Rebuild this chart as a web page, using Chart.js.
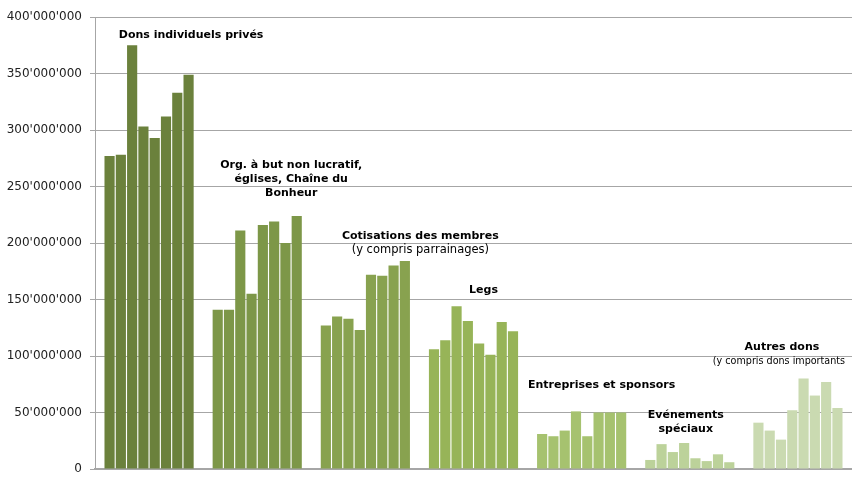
<!DOCTYPE html>
<html lang="fr">
<head>
  <meta charset="UTF-8">
  <title>Dons par source</title>
  <script src="https://cdn.jsdelivr.net/npm/chart.js"></script>
  <style>
    html, body {
      margin: 0;
      padding: 0;
      background: #ffffff;
    }
    #wrap {
      width: 852px;
      height: 479px;
    }
  </style>
</head>
<body>
  <div id="wrap"><canvas id="donChart"></canvas></div>

  <script>
    // categories (source of revenue)
    const categories = [
      'Dons individuels privés',
      'Org. à but non lucratif, églises, Chaîne du Bonheur',
      'Cotisations des membres',
      'Legs',
      'Entreprises et sponsors',
      'Evénements spéciaux',
      'Autres dons'
    ];

    // 8 series per category (CHF)
    const serie1 = [277e6, 141e6, 127e6, 106e6, 31e6, 8e6, 41e6];
    const serie2 = [278e6, 141e6, 135e6, 114e6, 29e6, 22e6, 34e6];
    const serie3 = [375e6, 211e6, 133e6, 144e6, 34e6, 15e6, 26e6];
    const serie4 = [303e6, 155e6, 123e6, 131e6, 51e6, 23e6, 52e6];
    const serie5 = [293e6, 216e6, 172e6, 111e6, 29e6, 9.5e6, 80e6];
    const serie6 = [312e6, 219e6, 171e6, 101e6, 50e6, 7e6, 65e6];
    const serie7 = [333e6, 200e6, 180e6, 130e6, 50e6, 13e6, 77e6];
    const serie8 = [349e6, 224e6, 184e6, 122e6, 50e6, 6e6, 54e6];

    const seriesNames = ['Série 1', 'Série 2', 'Série 3', 'Série 4', 'Série 5', 'Série 6', 'Série 7', 'Série 8'];
    const seriesValues = [serie1, serie2, serie3, serie4, serie5, serie6, serie7, serie8];

    // y axis ticks
    const yMin = 0;
    const yMax = 400e6;
    const yStep = 50e6;

    // annotation text per category: bold lines, then normal lines
    const boldLabels = [
      ['Dons individuels privés'],
      ['Org. à but non lucratif,', 'églises, Chaîne du', 'Bonheur'],
      ['Cotisations des membres'],
      ['Legs'],
      ['Entreprises et sponsors'],
      ['Evénements', 'spéciaux'],
      ['Autres dons']
    ];
    const subLabels = [
      [],
      [],
      ['(y compris parrainages)'],
      [],
      [],
      [],
      ['(y compris dons importants']
    ];

    const groupColors = ['#6b813c', '#7d9748', '#88a24f', '#97b458', '#a6c26f', '#bcd29a', '#cadab1'];

    function fmt(v) {
      return String(v).replace(/\B(?=(\d{3})+(?!\d))/g, "'");
    }

    // draws the category titles above each group of bars
    const groupTitles = {
      id: 'groupTitles',
      afterDatasetsDraw(chart) {
        const ctx = chart.ctx;
        const xs = chart.scales.x;
        const ys = chart.scales.y;
        // shift from group center, distance of last line above tallest bar
        const dx = [42, 34, 55, 10, 20, -4, -16];
        const subDx = [0, 0, 55, 0, 0, 0, -19];
        const subSize = [11.5, 11.5, 11.5, 11.5, 11.5, 11.5, 9.6];
        const dy = [10, 23, 11, 16, 26, 14, 17];
        const lineH = 14;
        ctx.save();
        ctx.fillStyle = '#000000';
        ctx.textBaseline = 'middle';
        ctx.textAlign = 'center';
        categories.forEach((c, i) => {
          const top = Math.max(...seriesValues.map(s => s[i]));
          const lines = boldLabels[i].map(t => [t, true]).concat(subLabels[i].map(t => [t, false]));
          const cx = xs.getPixelForValue(i);
          let y = ys.getPixelForValue(top) - dy[i] - (lines.length - 1) * lineH;
          lines.forEach(([t, bold]) => {
            ctx.font = bold ? 'bold 11px "DejaVu Sans"' : subSize[i] + 'px "DejaVu Sans"';
            ctx.fillText(t, cx + (bold ? dx[i] : subDx[i]), y);
            y += bold ? lineH : lineH + 1;
          });
        });
        ctx.restore();
      }
    };

    const datasets = seriesValues.map((vals, k) => ({
      label: seriesNames[k],
      data: vals,
      backgroundColor: groupColors,
      borderWidth: 0,
      barPercentage: 0.9,
      categoryPercentage: 0.835
    }));

    new Chart(document.getElementById('donChart').getContext('2d'), {
      type: 'bar',
      data: { labels: categories, datasets },
      options: {
        responsive: true,
        maintainAspectRatio: false,
        animation: false,
        layout: { padding: { top: 17, left: 5, right: 0, bottom: 10 } },
        plugins: {
          legend: { display: false },
          tooltip: { enabled: false }
        },
        scales: {
          x: {
            afterFit(scale) { scale.height = 0; },
            ticks: { display: false },
            grid: { display: false },
            border: { display: true, color: '#a6a6a6', width: 2 }
          },
          y: {
            min: yMin,
            max: yMax,
            afterFit(scale) {
              scale.width = 90;
              scale.paddingTop = 0;
              scale.paddingBottom = 0;
            },
            ticks: {
              stepSize: yStep,
              padding: 8,
              color: '#222222',
              font: { family: '"DejaVu Sans"', size: 12 },
              callback: v => fmt(v)
            },
            grid: { color: '#a6a6a6', lineWidth: 1, tickLength: 5 },
            border: { color: '#a6a6a6', width: 1 }
          }
        }
      },
      plugins: [groupTitles]
    });
  </script>
</body>
</html>
